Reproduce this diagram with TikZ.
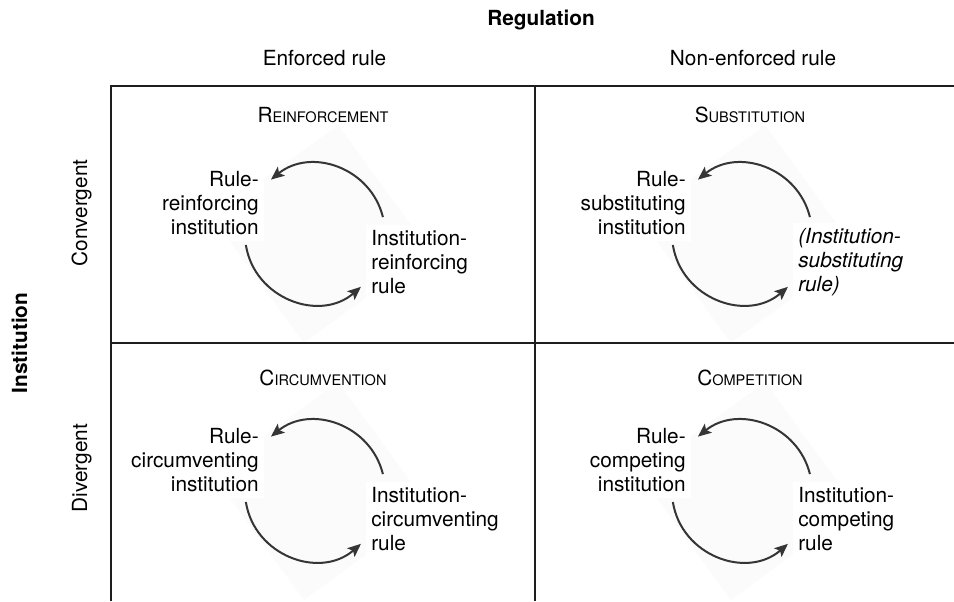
\documentclass[tikz,border=0pt]{standalone}
\usepackage{fontspec}
\setmainfont{TeX Gyre Heros}
\usetikzlibrary{arrows.meta,calc}
\definecolor{arrgray}{HTML}{353535}
\definecolor{linegray}{HTML}{1E1E1E}
\definecolor{faintbg}{HTML}{FBFBFB}
\newcommand{\mysc}[2]{#1{\fontsize{10.9pt}{13pt}\selectfont #2}}
\tikzset{
  txt/.style={font=\fontsize{15.6pt}{18pt}\selectfont, inner sep=0pt},
  boldtxt/.style={font=\fontsize{15.6pt}{18pt}\selectfont\bfseries, inner sep=0pt},
  itxt/.style={font=\fontsize{15.6pt}{18pt}\selectfont\itshape},
  lbl/.style={txt, fill=white, inner sep=4pt},
  gridline/.style={line width=1.1pt, draw=linegray},
  cyc/.style={draw=arrgray, line width=1.5pt, -{Stealth[length=10pt,width=8.5pt,inset=2.2pt]}},
}
\newcommand{\mycell}[8]{%
  \begin{scope}[shift={(#1,#2)}]
    \fill[faintbg, shift={(6,0)}, rotate=36] (-78,-78) rectangle (78,78);
    \node[txt, anchor=base] (#3title) at (8,#8) {#4};
    \node[lbl, align=right, anchor=east] (#3L) at (-50.7,30.5) {#5};
    \node[lbl, align=left, anchor=west, #7] (#3R) at (50.7,-28.5) {#6};
    \coordinate (#3us) at (14:70);
    \coordinate (#3ue) at (129:70);
    \coordinate (#3ls) at (189:70);
    \coordinate (#3le) at (311:70);
    \draw[cyc] (#3us) to[out=104,in=39,looseness=1.11] (#3ue);
    \draw[cyc] (#3ls) to[out=279,in=221,looseness=1.14] (#3le);
  \end{scope}}

\begin{document}
\begin{tikzpicture}[x=0.75pt,y=0.75pt]
\useasboundingbox (0,0) rectangle (954,-601);

% cells
\mycell{315}{-234}{reinf}{\mysc{R}{EINFORCEMENT}}{Rule-\\reinforcing\\institution}{Institution-\\reinforcing\\rule}{}{111.5}
\mycell{742}{-234}{subst}{\mysc{S}{UBSTITUTION}}{Rule-\\substituting\\institution}{(Institution-\\substituting\\rule)}{itxt}{111.5}
\mycell{315}{-491}{circ}{\mysc{C}{IRCUMVENTION}}{Rule-\\circumventing\\institution}{Institution-\\circumventing\\rule}{}{106}
\mycell{742}{-491}{comp}{\mysc{C}{OMPETITION}}{Rule-\\competing\\institution}{Institution-\\competing\\rule}{}{106}

% grid
\draw[gridline] (111,-601) -- (111,-86) -- (954,-86);
\draw[gridline] (535,-86) -- (535,-601);
\draw[gridline] (111,-343) -- (954,-343);

% headers
\node[boldtxt, anchor=base] (reg) at (541,-25) {Regulation};
\node[txt, anchor=base] (enf) at (324.5,-65) {Enforced rule};
\node[txt, anchor=base] (nenf) at (753,-65) {Non-enforced rule};
\node[txt, anchor=base, rotate=90] (conv) at (87,-213) {Convergent};
\node[txt, anchor=base, rotate=90] (divg) at (87,-468) {Divergent};
\node[boldtxt, anchor=base, rotate=90] (inst) at (27,-343) {Institution};
\end{tikzpicture}
\end{document}
